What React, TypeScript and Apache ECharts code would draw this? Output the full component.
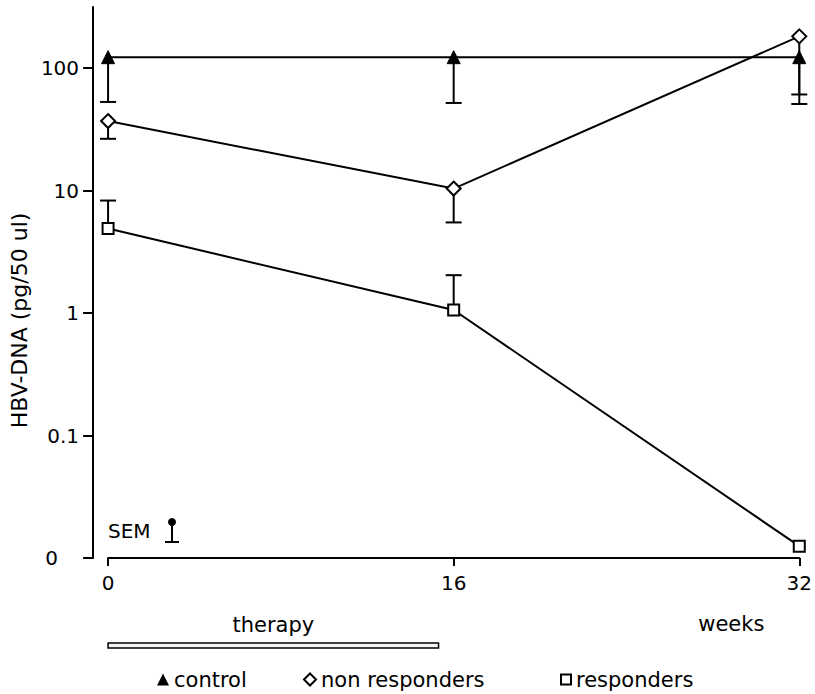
import React, { useEffect, useRef } from "react";
import * as echarts from "echarts";

// Weeks of follow-up
const weeks = [0, 16, 32];
const xTickValues = [0, 16, 32];

// HBV-DNA (pg/50 ul), group means
const controlMean = [123, 123, 123];
const nonResponderMean = [37, 10.4, 182];
const responderMean = [4.9, 1.06, 0.0125];

// SEM bar ends (null = no bar drawn)
const controlSemEnd = [53, 52, 51];
const nonResponderSemEnd = [26.5, 5.5, 61];
const responderSemEnd = [8.3, 2.04, null];

// Log-axis ticks; the lowest decade is printed as "0"
const yTickValues = [0.01, 0.1, 1, 10, 100];
const yTickLabels = ["0", "0.1", "1", "10", "100"];

// Therapy period (weeks)
const therapySpan = [0, 15.3];

const FONT = "DejaVu Sans";

const pairs = (ys: number[]) => weeks.map((w, i) => [w, ys[i]]);
const semPairs = (means: number[], ends: (number | null)[]) =>
  weeks
    .map((w, i) => (ends[i] == null ? null : [w, means[i], ends[i] as number]))
    .filter((d) => d !== null);

const semRender = (params: any, api: any) => {
  const p0 = api.coord([api.value(0), api.value(1)]);
  const p1 = api.coord([api.value(0), api.value(2)]);
  const cap = 8;
  const style = { stroke: "#000", lineWidth: 2 };
  return {
    type: "group",
    children: [
      { type: "line", shape: { x1: p0[0], y1: p0[1], x2: p1[0], y2: p1[1] }, style },
      { type: "line", shape: { x1: p1[0] - cap, y1: p1[1], x2: p1[0] + cap, y2: p1[1] }, style },
    ],
  };
};

const tickIndex = (v: number) =>
  yTickValues.findIndex((t) => Math.abs(Math.log10(t) - Math.log10(v)) < 1e-6);

export default function App() {
  const ref = useRef<HTMLDivElement>(null);

  useEffect(() => {
    if (!ref.current) return;
    const chart = echarts.init(ref.current, undefined, { renderer: "svg" });

    const lineSeries = (name: string, data: number[][], symbol: string, size: number, filled: boolean) => ({
      name,
      type: "line",
      data,
      symbol,
      symbolSize: size,
      showSymbol: true,
      z: 5,
      lineStyle: { color: "#000", width: 2 },
      itemStyle: filled
        ? { color: "#000", borderColor: "#000", borderWidth: 1 }
        : { color: "#fff", borderColor: "#000", borderWidth: 2 },
    });

    const semSeries = (data: any[]) => ({
      type: "custom",
      renderItem: semRender,
      data,
      encode: { x: 0, y: [1, 2] },
      z: 2,
      silent: true,
    });

    const legendAt = (left: number, name: string, icon: string, filled: boolean, w: number, h: number) => ({
      left,
      top: 669,
      padding: 0,
      itemWidth: w,
      itemHeight: h,
      selectedMode: false,
      textStyle: { fontFamily: FONT, fontSize: 21, color: "#000" },
      data: [
        {
          name,
          icon,
          itemStyle: filled
            ? { color: "#000", borderColor: "#000", borderWidth: 0 }
            : { color: "#fff", borderColor: "#000", borderWidth: 2 },
        },
      ],
    });

    chart.setOption({
      animation: false,
      backgroundColor: "#fff",
      textStyle: { fontFamily: FONT, color: "#000" },
      grid: { left: 107, right: 15, top: 7, bottom: 136 },
      xAxis: {
        type: "value",
        min: 0,
        max: 32,
        interval: 16,
        axisLine: { show: true, onZero: false, lineStyle: { color: "#000", width: 2 } },
        axisTick: { show: true, length: 8, lineStyle: { color: "#000", width: 2 } },
        axisLabel: {
          margin: 15,
          fontFamily: FONT,
          fontSize: 20,
          color: "#000",
          formatter: (v: number) => (xTickValues.includes(v) ? String(v) : ""),
        },
        splitLine: { show: false },
      },
      yAxis: {
        type: "log",
        logBase: 10,
        min: 0.01,
        max: 316,
        offset: 15,
        name: "HBV-DNA (pg/50 ul)",
        nameLocation: "middle",
        nameRotate: 90,
        nameGap: 56,
        nameTextStyle: { fontFamily: FONT, fontSize: 22, color: "#000", padding: [0, 76, 0, 0] },
        axisLine: { show: true, onZero: false, lineStyle: { color: "#000", width: 2 } },
        axisTick: { show: true, length: 10, lineStyle: { color: "#000", width: 2 }, customValues: yTickValues },
        axisLabel: {
          margin: 14,
          fontFamily: FONT,
          fontSize: 20,
          color: "#000",
          customValues: yTickValues,
          formatter: (v: number) => {
            const i = tickIndex(v);
            if (i < 0) return "";
            return i === 0 ? "{z|" + yTickLabels[i] + "}" : yTickLabels[i];
          },
          rich: { z: { fontFamily: FONT, fontSize: 20, color: "#000", padding: [0, 21, 0, 0] } },
        },
        splitLine: { show: false },
        minorTick: { show: false },
      },
      legend: [
        legendAt(157, "control", "triangle", true, 12, 12),
        legendAt(303, "non responders", "diamond", false, 12, 12),
        legendAt(560, "responders", "rect", false, 10, 10),
      ],
      series: [
        semSeries(semPairs(controlMean, controlSemEnd)),
        semSeries(semPairs(nonResponderMean, nonResponderSemEnd)),
        semSeries(semPairs(responderMean, responderSemEnd)),
        lineSeries("control", pairs(controlMean), "triangle", 13, true),
        lineSeries("non responders", pairs(nonResponderMean), "diamond", 14, false),
        lineSeries("responders", pairs(responderMean), "rect", 11, false),
      ],
    });

    // Annotations under the axis: therapy period bar, labels, SEM key
    const t0 = chart.convertToPixel({ gridIndex: 0 }, [therapySpan[0], 1]) as number[];
    const t1 = chart.convertToPixel({ gridIndex: 0 }, [therapySpan[1], 1]) as number[];
    const wEnd = chart.convertToPixel({ gridIndex: 0 }, [weeks[weeks.length - 1], 1]) as number[];
    chart.setOption({
      graphic: [
        {
          type: "rect",
          shape: { x: t0[0], y: 643, width: t1[0] - t0[0], height: 5 },
          style: { fill: "#f4f4f4", stroke: "#000", lineWidth: 1.5 },
        },
        {
          type: "text",
          x: (t0[0] + t1[0]) / 2,
          y: 625,
          style: { text: "therapy", fontFamily: FONT, fontSize: 21, fill: "#000", align: "center", verticalAlign: "middle" },
        },
        {
          type: "text",
          x: wEnd[0] - 68,
          y: 624,
          style: { text: "weeks", fontFamily: FONT, fontSize: 21, fill: "#000", align: "center", verticalAlign: "middle" },
        },
        {
          type: "text",
          x: 108,
          y: 531,
          style: { text: "SEM", fontFamily: FONT, fontSize: 20, fill: "#000", align: "left", verticalAlign: "middle" },
        },
        { type: "line", shape: { x1: 172, y1: 523, x2: 172, y2: 542 }, style: { stroke: "#000", lineWidth: 2 } },
        { type: "line", shape: { x1: 165, y1: 542, x2: 179, y2: 542 }, style: { stroke: "#000", lineWidth: 2 } },
        { type: "circle", shape: { cx: 172, cy: 522, r: 4 }, style: { fill: "#000" } },
      ],
    });

    return () => chart.dispose();
  }, []);

  return <div ref={ref} style={{ width: 815, height: 694, position: "absolute", left: 0, top: 0 }} />;
}
